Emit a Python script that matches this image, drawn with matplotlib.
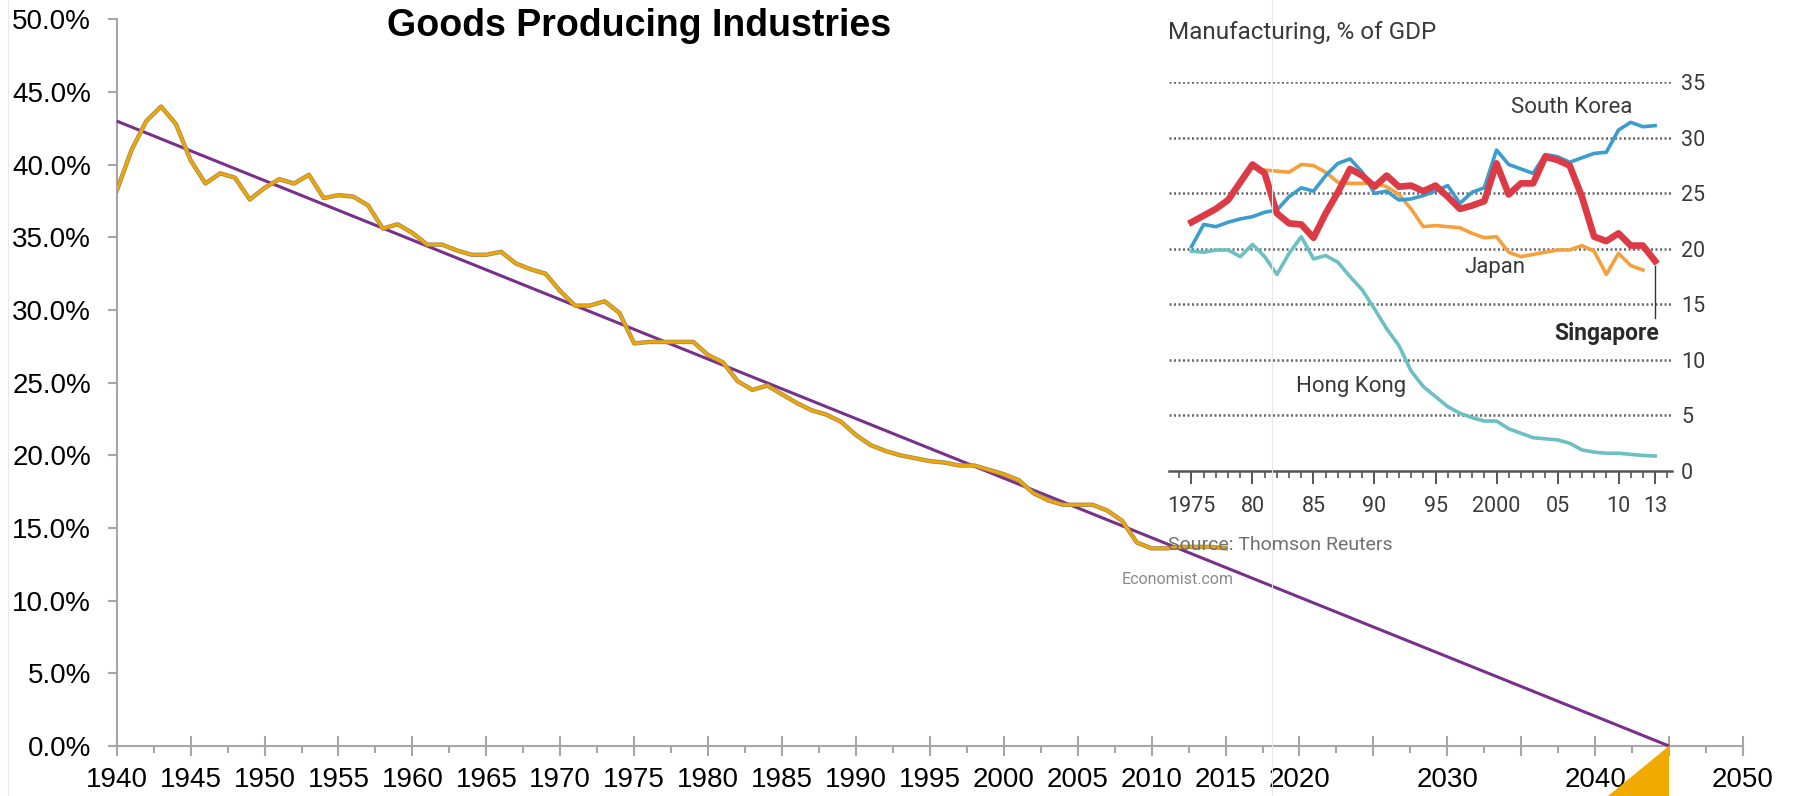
import numpy as np
import matplotlib.pyplot as plt
import matplotlib.patheffects as pe
from matplotlib.patches import Polygon
from matplotlib.lines import Line2D

W, H = 1793, 796

# goods producing industries, share of output (%)
years = list(range(1940, 2016))
goods_share = [38.2, 41.0, 43.0, 44.0, 42.8, 40.3, 38.7, 39.4, 39.1, 37.6,
               38.4, 39.0, 38.7, 39.3, 37.7, 37.9, 37.8, 37.2, 35.6, 35.9,
               35.3, 34.5, 34.5, 34.1, 33.8, 33.8, 34.0, 33.2, 32.8, 32.5,
               31.3, 30.3, 30.3, 30.6, 29.8, 27.7, 27.8, 27.8, 27.8, 27.8,
               26.9, 26.4, 25.1, 24.5, 24.8, 24.2, 23.6, 23.1, 22.8, 22.3,
               21.4, 20.7, 20.3, 20.0, 19.8, 19.6, 19.5, 19.3, 19.3, 19.0,
               18.7, 18.3, 17.4, 16.9, 16.6, 16.6, 16.6, 16.2, 15.5, 14.0,
               13.6, 13.6, 13.7, 13.7, 13.7, 13.6]
trend_years = [1940, 2045]
trend_share = [43.0, 0.0]

y_ticks = [0, 5, 10, 15, 20, 25, 30, 35, 40, 45, 50]
x_major = list(range(1940, 2051, 5))
x_labels = [str(y) for y in range(1940, 2021, 5)] + ['', '2030', '', '2040', '', '2050']

# manufacturing, % of GDP
asia_years = list(range(1975, 2014))
south_korea = [20.2, 22.2, 22.0, 22.4, 22.7, 22.9, 23.3, 23.5, 24.7, 25.5,
               25.2, 26.6, 27.7, 28.1, 26.9, 25.0, 25.2, 24.4, 24.5, 24.8,
               25.2, 25.7, 24.1, 25.1, 25.5, 28.9, 27.6, 27.2, 26.8, 28.5,
               28.3, 27.8, 28.2, 28.6, 28.7, 30.7, 31.4, 31.0, 31.1]
japan_years = list(range(1980, 2013))
japan = [27.3, 27.1, 27.0, 26.9, 27.6, 27.5, 26.9, 26.0, 25.9, 25.9,
         25.9, 25.6, 24.9, 23.6, 22.0, 22.1, 22.0, 21.9, 21.4, 21.0,
         21.1, 19.7, 19.3, 19.5, 19.7, 19.9, 19.9, 20.3, 19.8, 17.7,
         19.6, 18.5, 18.1]
singapore = [22.4, 23.0, 23.6, 24.4, 26.0, 27.6, 26.8, 23.2, 22.3, 22.2,
             21.0, 23.2, 25.1, 27.2, 26.6, 25.6, 26.6, 25.6, 25.7, 25.2,
             25.7, 24.7, 23.6, 23.9, 24.3, 27.7, 24.9, 25.9, 25.9, 28.3,
             28.0, 27.5, 24.7, 21.1, 20.7, 21.4, 20.3, 20.3, 18.9]
hong_kong = [19.8, 19.7, 19.9, 19.9, 19.3, 20.4, 19.3, 17.7, 19.6, 21.1,
             19.1, 19.4, 18.8, 17.5, 16.3, 14.6, 12.8, 11.3, 9.0, 7.6,
             6.7, 5.8, 5.2, 4.8, 4.5, 4.5, 3.8, 3.4, 3.0, 2.9,
             2.8, 2.5, 1.9, 1.7, 1.6, 1.6, 1.5, 1.4, 1.35]
inset_major = [1975, 1980, 1985, 1990, 1995, 2000, 2005, 2010, 2013]
inset_labels = ['1975', '80', '85', '90', '95', '2000', '05', '10', '13']
inset_grid = [5, 10, 15, 20, 25, 30, 35]


def px(x, y):
    # pixel position (from top-left) to figure fraction
    return x / W, 1 - y / H


fig = plt.figure(figsize=(W / 100, H / 100), dpi=100)
fig.patch.set_facecolor('white')

# faint edges left over from pasted images
for xv in (8, 1272):
    fig.add_artist(Line2D([xv / W, xv / W], [0, 1], color='#e8e8e8', lw=0.8))

# ---- main chart ----
ax = fig.add_axes([116.7 / W, 50 / H, (1743 - 116.7) / W, (746 - 19.3) / H])
ax.set_facecolor('none')
ax.set_xlim(1940, 2050)
ax.set_ylim(0, 50)

ax.plot(trend_years, trend_share, color='#78318b', lw=2.2, zorder=3,
        solid_capstyle='butt', clip_on=False)
ax.plot(years, goods_share, color='#f0a800', lw=2.0, zorder=4,
        path_effects=[pe.Stroke(linewidth=3.2, foreground='#a08a60'), pe.Normal()])

# orange wedge under the point where the trend hits zero
x0 = trend_years[-1]
wedge = Polygon([(x0, 0), (x0, -10), (x0 - 12.0, -10)], closed=True,
                facecolor='#f0aa00', edgecolor='none', clip_on=False, zorder=6)
ax.add_patch(wedge)

for s in ('top', 'right'):
    ax.spines[s].set_visible(False)
for s in ('left', 'bottom'):
    ax.spines[s].set_color('#a6a6a6')
    ax.spines[s].set_linewidth(1.5)

ax.set_yticks(y_ticks)
ax.set_yticklabels(['%.1f%%' % v for v in y_ticks])
ax.set_xticks(x_major)
ax.set_xticklabels(x_labels)
ax.set_xticks([y + 2.5 for y in range(1940, 2050, 5)], minor=True)
ax.tick_params(axis='y', direction='out', length=6.5, width=1.5, color='#a6a6a6',
               pad=12, labelsize=20)
ax.tick_params(axis='x', which='major', direction='inout', length=14, width=1.5,
               color='#a6a6a6', pad=8, labelsize=20)
ax.tick_params(axis='x', which='minor', direction='out', length=5, width=1.5,
               color='#a6a6a6')
for lab in ax.get_xticklabels() + ax.get_yticklabels():
    lab.set_fontfamily('Liberation Sans')
    lab.set_color('black')

fig.text(*px(639, 36), 'Goods Producing Industries', ha='center', va='baseline',
         fontsize=27, fontweight='bold', family='Liberation Sans')

# ---- inset: manufacturing share in Asia ----
inset_font = ['Roboto', 'DejaVu Sans']
ink = '#3a3a3a'
ax2 = fig.add_axes([1168.5 / W, (796 - 471) / H, (1672 - 1168.5) / W, (471 - 82.3) / H])
ax2.set_facecolor('none')
ax2.set_xlim(1973.115, 2014.385)
ax2.set_ylim(0, 35)

for g in inset_grid:
    ax2.axhline(g, color='#666666', lw=1.8, ls=(0, (0.8, 1.0)), zorder=1)

ax2.plot(asia_years, hong_kong, color='#6cbfc2', lw=2.6, zorder=3)
ax2.plot(japan_years, japan, color='#f6a03c', lw=2.6, zorder=3)
ax2.plot(asia_years, south_korea, color='#3a9ccf', lw=2.6, zorder=4)
ax2.plot(asia_years, singapore, color='#dc3a45', lw=4.8, zorder=5)

# leader from Singapore's last point down to its label
ax2.plot([asia_years[-1], asia_years[-1]], [singapore[-1] - 0.4, 13.8],
         color='#333333', lw=1.0, zorder=2)

for s in ('top', 'left', 'right'):
    ax2.spines[s].set_visible(False)
ax2.spines['bottom'].set_color('#555555')
ax2.spines['bottom'].set_linewidth(1.8)

ax2.set_xticks(inset_major)
ax2.set_xticklabels(inset_labels)
ax2.set_xticks(list(range(1974, 2015)), minor=True)
ax2.tick_params(axis='x', which='major', direction='out', length=9, width=1.4,
                color='#555555', pad=9, labelsize=15.5, labelcolor=ink)
ax2.tick_params(axis='x', which='minor', direction='out', length=5, width=1.2,
                color='#555555')
ax2.yaxis.tick_right()
ax2.set_yticks([0] + inset_grid)
ax2.set_yticklabels([str(v) for v in [0] + inset_grid])
ax2.tick_params(axis='y', length=0, pad=6.5, labelsize=15.5, labelcolor=ink)
for lab in ax2.get_xticklabels() + ax2.get_yticklabels():
    lab.set_fontfamily(inset_font)

ax2.text(2006.2, 32.7, 'South Korea', ha='center', va='center', fontsize=16,
         color=ink, family=inset_font)
ax2.text(1999.9, 18.3, 'Japan', ha='center', va='center', fontsize=16,
         color=ink, family=inset_font)
ax2.text(1988.1, 7.6, 'Hong Kong', ha='center', va='center', fontsize=16,
         color=ink, family=inset_font)
ax2.text(2013.3, 12.4, 'Singapore', ha='right', va='center', fontsize=16.5,
         fontweight='bold', color='#2a2a2a', family=inset_font)

fig.text(*px(1168.5, 32), 'Manufacturing, % of GDP', ha='left', va='center',
         fontsize=17.5, color=ink, family=inset_font)
fig.text(*px(1168.5, 545), 'Source: Thomson Reuters', ha='left', va='center',
         fontsize=14, color='#707070', family=inset_font)
fig.text(*px(1122, 580), 'Economist.com', ha='left', va='center',
         fontsize=11.5, color='#8a8a8a', family=inset_font)

fig.savefig('out.png', dpi=100, facecolor='white')
